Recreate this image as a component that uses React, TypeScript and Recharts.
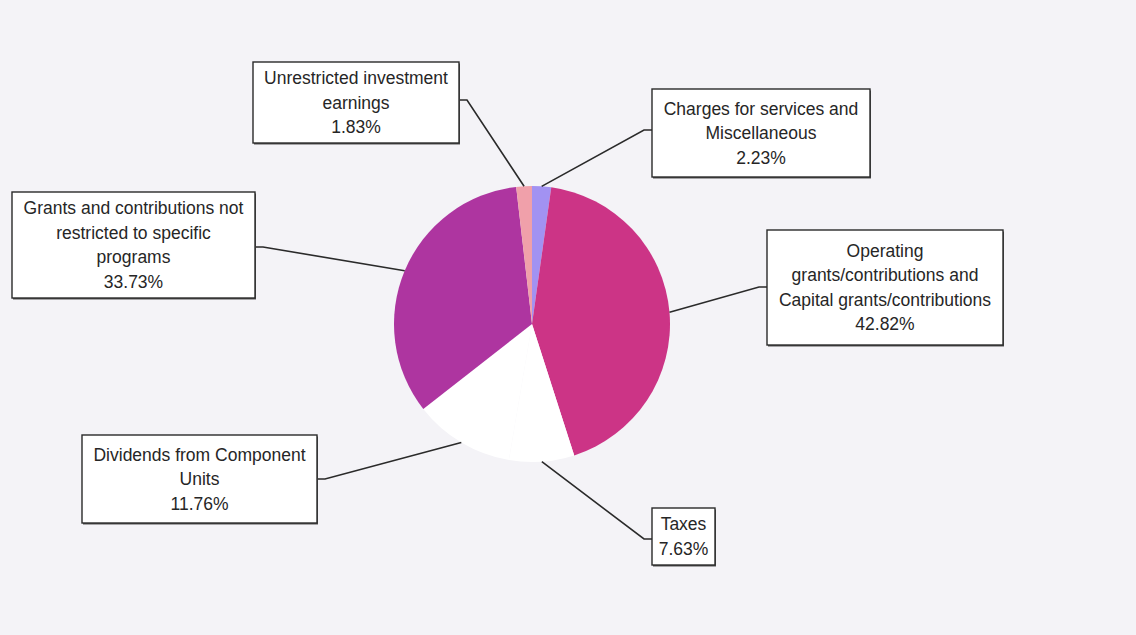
import React from 'react';
import { PieChart, Pie, Cell } from 'recharts';

// slices, clockwise from 12 o'clock
const categories = [
  'Charges for services and Miscellaneous',
  'Operating grants/contributions and Capital grants/contributions',
  'Taxes',
  'Dividends from Component Units',
  'Grants and contributions not restricted to specific programs',
  'Unrestricted investment earnings',
];
const shares = [2.23, 42.82, 7.63, 11.76, 33.73, 1.83];
const labelLines = [
  ['Charges for services and', 'Miscellaneous'],
  ['Operating', 'grants/contributions and', 'Capital grants/contributions'],
  ['Taxes'],
  ['Dividends from Component', 'Units'],
  ['Grants and contributions not', 'restricted to specific', 'programs'],
  ['Unrestricted investment', 'earnings'],
];
const sliceColors = ['#A292F2', '#CC3486', '#FFFFFF', '#FFFFFF', '#AE35A0', '#F0A0AA'];

const data = categories.map((name, i) => ({ name, value: shares[i] }));

// label box placement (page px): box rect, side of box the leader enters, elbow length
const boxes = [
  { x: 652, y: 89, w: 218, h: 88, side: 'left', ay: 130 },
  { x: 767, y: 230, w: 236, h: 115, side: 'left', ay: 287 },
  { x: 652, y: 508, w: 63, h: 57, side: 'left', ay: 539 },
  { x: 82, y: 435, w: 235, h: 88, side: 'right', ay: 479 },
  { x: 12, y: 192, w: 243, h: 106, side: 'right', ay: 247 },
  { x: 253, y: 62, w: 206, h: 81, side: 'right', ay: 100 },
];

const RAD = Math.PI / 180;
const LINE_H = 24.5;

const renderLabel = (props: any) => {
  const { cx, cy, midAngle, outerRadius, index } = props;
  const b = boxes[index];
  const px = cx + outerRadius * Math.cos(-midAngle * RAD);
  const py = cy + outerRadius * Math.sin(-midAngle * RAD);
  const ax = b.side === 'left' ? b.x : b.x + b.w;
  const ex = b.side === 'left' ? ax - 8 : ax + 8;
  const lines = [...labelLines[index], `${shares[index].toFixed(2)}%`];
  const midY = b.y + b.h / 2;
  const firstY = midY - ((lines.length - 1) * LINE_H) / 2;
  return (
    <g key={`lbl-${index}`}>
      <polyline
        points={`${px},${py} ${ex},${b.ay} ${ax},${b.ay}`}
        fill="none"
        stroke="#2a2a2a"
        strokeWidth={1.6}
      />
      <rect x={b.x + 1} y={b.y + 1.5} width={b.w} height={b.h} fill="#555" />
      <rect x={b.x} y={b.y} width={b.w} height={b.h} fill="#fff" stroke="#2a2a2a" strokeWidth={1.4} />
      {lines.map((t, k) => (
        <text
          key={k}
          x={b.x + b.w / 2}
          y={firstY + k * LINE_H}
          textAnchor="middle"
          dominantBaseline="central"
          fill="#262626"
          fontSize={17.5}
          fontFamily="'Liberation Sans', Arial, sans-serif"
        >
          {t}
        </text>
      ))}
    </g>
  );
};

export default function App() {
  return (
    <div
      style={{
        position: 'fixed',
        left: 0,
        top: 0,
        width: 1136,
        height: 635,
        background: '#F4F3F7',
      }}
    >
      <PieChart width={1136} height={635} margin={{ top: 0, right: 0, bottom: 0, left: 0 }}>
        <Pie
          data={data}
          dataKey="value"
          nameKey="name"
          cx={532}
          cy={324}
          outerRadius={138}
          startAngle={90}
          endAngle={-270}
          stroke="none"
          label={renderLabel}
          labelLine={false}
          isAnimationActive={false}
        >
          {data.map((d, i) => (
            <Cell key={d.name} fill={sliceColors[i]} />
          ))}
        </Pie>
      </PieChart>
    </div>
  );
}
